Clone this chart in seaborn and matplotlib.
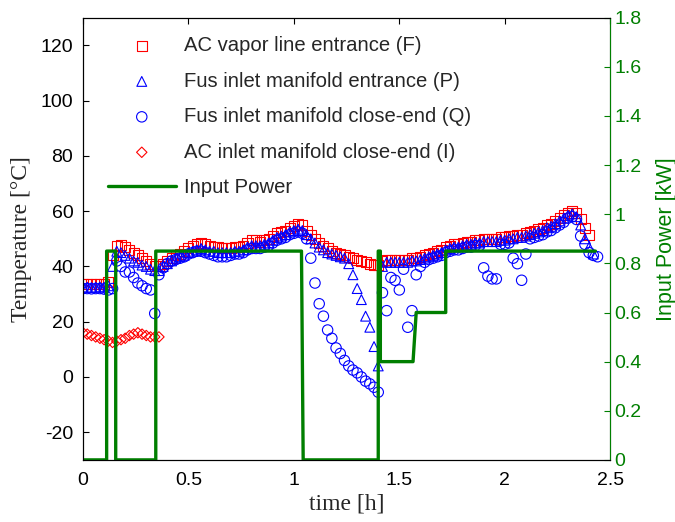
import numpy as np
import pandas as pd
import seaborn as sns
import matplotlib.pyplot as plt
from matplotlib.ticker import FormatStrFormatter, FuncFormatter

nan = np.nan

# sample clock of the logger, hours (0.00 ... 2.44)
time_h = np.round(np.arange(0, 2.45, 0.02), 2)

# AC vapor line entrance (F)
temp_F = [
    33.5, 33.5, 33.6, 33.5, 33.7, 33.8, 34.5, 44.0, 47.5, 47.8,
    47.0, 46.0, 45.0, 44.0, 43.0, 42.0, 41.0, 40.0, 40.0, 41.0,
    42.0, 43.0, 44.0, 44.5, 45.5, 46.5, 47.5, 48.0, 48.5, 48.0,
    47.5, 47.0, 47.0, 46.5, 46.5, 46.5, 47.0, 47.0, 47.5, 48.5,
    49.5, 49.5, 49.0, 49.5, 50.0, 51.0, 52.0, 52.5, 53.0, 54.0,
    54.5, 55.5, 55.0, 53.0, 51.5, 50.0, 48.5, 47.5, 46.5, 45.5,
    45.0, 44.5, 44.0, 43.5, 43.0, 42.5, 42.0, 41.5, 41.0, 40.5,
    40.5, 42.0, 42.5, 42.5, 42.5, 42.5, 42.5, 42.5, 43.0, 43.0,
    43.5, 44.0, 44.5, 45.0, 45.5, 46.0, 47.0, 47.5, 48.0, 48.0,
    48.5, 49.0, 49.0, 49.5, 49.5, 50.0, 50.0, 50.0, 50.0, 50.5,
    50.5, 51.0, 51.0, 51.5, 51.5, 52.0, 52.5, 53.0, 53.5, 54.0,
    55.0, 55.5, 56.5, 57.5, 58.5, 59.5, 60.0, 59.5, 57.0, 54.0,
    51.5, nan, nan,
]

# Fus inlet manifold entrance (P)
temp_P = [
    32.5, 32.5, 32.4, 32.5, 32.6, 32.5, 33.0, 40.0, 45.5, 45.0,
    44.0, 43.0, 42.0, 41.5, 40.5, 40.0, 39.0, 38.5, 38.5, 40.0,
    41.0, 42.0, 43.0, 43.5, 44.0, 45.0, 45.5, 46.0, 46.5, 46.0,
    45.5, 45.5, 45.0, 45.0, 45.0, 45.0, 45.5, 45.5, 46.0, 47.0,
    47.5, 47.5, 47.5, 48.0, 48.5, 49.5, 50.5, 51.0, 51.5, 52.5,
    53.0, 53.5, 53.0, 51.5, 50.0, 48.5, 47.0, 46.0, 45.0, 44.5,
    44.0, 43.5, 43.0, 41.0, 37.0, 32.0, 28.0, 22.0, 18.0, 11.0,
    4.0, 40.0, 41.5, 41.5, 41.5, 41.5, 41.5, 41.5, 42.0, 42.0,
    42.5, 43.0, 43.5, 44.0, 44.5, 45.0, 46.0, 46.5, 47.0, 47.0,
    47.5, 48.0, 48.0, 48.5, 48.5, 49.0, 49.0, 49.0, 49.0, 49.5,
    49.5, 50.0, 50.0, 50.5, 50.5, 51.0, 51.5, 52.0, 52.5, 53.0,
    54.0, 54.5, 55.5, 56.5, 57.5, 58.5, 59.0, 58.0, 55.0, 50.0,
    47.0, 44.5, nan,
]

# Fus inlet manifold close-end (Q)
temp_Q = [
    32.0, 32.0, 31.9, 32.0, 32.0, 31.8, 31.5, 32.0, 42.0, 40.0,
    38.0, 38.0, 36.0, 34.0, 33.0, 32.0, 31.5, 23.0, 37.0, 39.5,
    41.0, 42.0, 42.5, 43.0, 43.5, 44.5, 45.0, 45.5, 45.5, 45.0,
    44.5, 44.0, 43.5, 43.5, 43.5, 44.0, 44.5, 44.5, 45.0, 46.0,
    46.5, 46.5, 46.5, 47.0, 47.5, 48.5, 49.5, 50.0, 50.5, 51.5,
    52.0, 52.5, 52.0, 50.0, 43.0, 34.0, 26.5, 22.0, 17.0, 14.0,
    10.5, 8.5, 6.0, 4.0, 2.5, 1.5, 0.0, -1.5, -2.5, -3.7,
    -5.5, 30.5, 24.0, 36.0, 35.0, 31.5, 39.0, 18.0, 24.0, 37.0,
    40.0, 41.5, 42.5, 43.0, 43.5, 44.0, 45.0, 45.5, 46.0, 46.0,
    46.5, 47.0, 47.0, 47.5, 47.5, 39.5, 36.5, 35.5, 35.5, 48.0,
    48.0, 48.5, 43.0, 41.0, 35.0, 44.5, 50.0, 50.5, 51.0, 51.5,
    52.5, 53.0, 54.0, 55.0, 56.0, 57.5, 58.0, 57.0, 51.0, 48.0,
    45.0, 44.0, 43.5,
]

# AC inlet manifold close-end (I), logged only for the first 0.36 h
temp_I = [
    16.0, 15.5, 15.0, 14.5, 14.0, 13.5, 13.0, 12.5, 13.0, 13.5,
    14.0, 15.0, 15.5, 16.0, 15.5, 15.0, 14.5, 14.5, 14.5,
] + [nan] * 104

# heater input power, step vertices
power_t = [0, 0.112, 0.112, 0.155, 0.155, 0.345, 0.345, 1.036, 1.044,
           1.40, 1.40, 1.41, 1.41, 1.565, 1.58, 1.72, 1.72, 2.43]
power_kw = [0, 0, 0.85, 0.85, 0, 0, 0.85, 0.85, 0,
            0, 0.85, 0.85, 0.4, 0.4, 0.6, 0.6, 0.85, 0.85]

labels = ['AC vapor line entrance (F)', 'Fus inlet manifold entrance (P)',
          'Fus inlet manifold close-end (Q)', 'AC inlet manifold close-end (I)']

df = pd.DataFrame({'t': time_h, 'F': temp_F, 'P': temp_P, 'Q': temp_Q, 'I': temp_I})
power = pd.DataFrame({'t': power_t, 'kW': power_kw})

sns.set_style('white')
plt.rcParams['font.family'] = ['Liberation Sans', 'DejaVu Sans']
plt.rcParams['xtick.direction'] = 'in'
plt.rcParams['ytick.direction'] = 'in'
plt.rcParams['axes.unicode_minus'] = False

red, blue, green = '#ff0000', '#0000ff', '#007f00'

fig, ax = plt.subplots(figsize=(6.75, 5.22), dpi=100)
fig.subplots_adjust(left=0.123, right=0.904, bottom=0.119, top=0.966)

series = [('F', 's', red, 52), ('P', '^', blue, 50), ('Q', 'o', blue, 56), ('I', 'D', red, 28)]
for (col, mk, c, s), lab in zip(series, labels):
    sns.scatterplot(data=df, x='t', y=col, marker=mk, s=s, color=c,
                    facecolors='none', edgecolor=c, linewidth=0.8, ax=ax, label=lab)

ax2 = ax.twinx()
sns.lineplot(data=power, x='t', y='kW', color=green, lw=2.4, sort=False,
             estimator=None, ax=ax2, label='Input Power')

ax.set_xlim(0, 2.5)
ax.set_ylim(-30, 130)
ax.set_xticks([0, 0.5, 1, 1.5, 2, 2.5])
ax.set_yticks(np.arange(-20, 121, 20))
ax.xaxis.set_major_formatter(FormatStrFormatter('%g'))
ax.tick_params(axis='both', labelsize=14, length=4, width=0.8, colors='black',
               top=True, right=False)
ax.tick_params(axis='x', pad=9)
ax.tick_params(axis='y', pad=7)
ax.set_xlabel('time [h]', fontsize=17, family='Liberation Serif', labelpad=3)
ax.set_ylabel('Temperature [°C]', fontsize=17, family='Liberation Serif', labelpad=6)

ax2.set_ylim(0, 1.8)
ax2.set_yticks(np.arange(0, 1.81, 0.2))
ax2.yaxis.set_major_formatter(FuncFormatter(lambda v, p: '%g' % round(v, 1)))
ax2.tick_params(axis='y', labelsize=14, length=4, width=0.8, colors=green, pad=3)
ax2.set_ylabel('Input Power [kW]', fontsize=15.5, color=green, labelpad=10)

for a in (ax, ax2):
    for sp in a.spines.values():
        sp.set_color('black')
        sp.set_linewidth(0.8)
ax2.spines['right'].set_color(green)

h1, l1 = ax.get_legend_handles_labels()
h2, l2 = ax2.get_legend_handles_labels()
ax.get_legend().remove()
ax2.legend(h1 + h2, l1 + l2, loc='upper left', bbox_to_anchor=(0.047, 0.958),
           frameon=False, fontsize=14.6, handlelength=3.35, handletextpad=0.4,
           labelspacing=0.81, borderaxespad=0, borderpad=0)

fig.savefig('out.png', dpi=100)
